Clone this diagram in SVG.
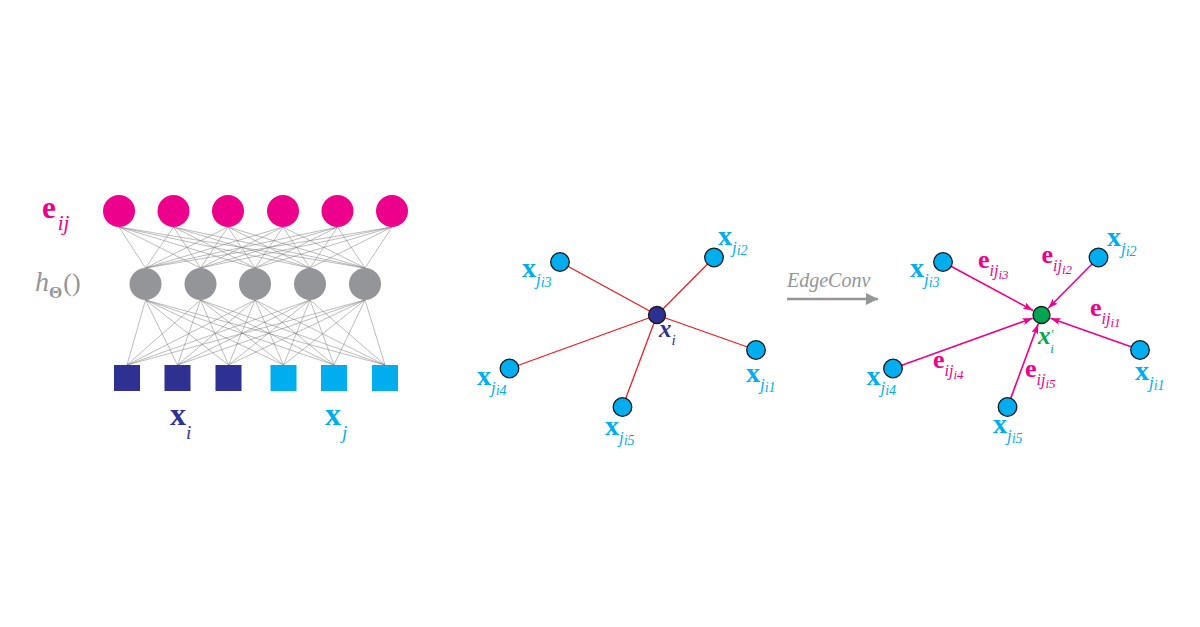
<svg xmlns="http://www.w3.org/2000/svg" width="1200" height="627" viewBox="0 0 1200 627">
<style>
text{font-family:"Liberation Serif","Times New Roman",serif}
.b{font-weight:bold}
.i{font-style:italic}
.pink{fill:#EC008C}
.navy{fill:#2E3192}
.cyan{fill:#00AEEF}
.grayt{fill:#939598}
.green{fill:#00A651}
.nn{stroke:#5a5a5a;stroke-width:0.5;fill:none}
.red{stroke:#ED1C24;stroke-width:1.3}
.pk{stroke:#EC008C;stroke-width:1.6;marker-end:url(#ah)}
.nb{fill:#00AEEF;stroke:#1a1a1a;stroke-width:1.3}
.s1{font-style:italic;font-weight:normal;font-size:17px}
.s2{font-style:italic;font-weight:normal;font-size:14px}
.e1{font-style:italic;font-weight:normal;font-size:16px}
.e2{font-style:italic;font-weight:normal;font-size:13px}
</style>
<defs>
<marker id="ah" markerUnits="userSpaceOnUse" markerWidth="12" markerHeight="9" refX="10" refY="3.5" orient="auto">
<path d="M0,0 L10,3.5 L0,7 L2,3.5 z" fill="#EC008C"/>
</marker>
<marker id="gah" markerUnits="userSpaceOnUse" markerWidth="14" markerHeight="14" refX="12" refY="6" orient="auto">
<path d="M0,0 L12,6 L0,12 z" fill="#939598"/>
</marker>
</defs>
<rect width="1200" height="627" fill="#ffffff"/>

<g id="connectors">
<g id="mlp-lines" class="nn" opacity="0.8">
<path d="M119 227L145.5 268M119 227L200.5 268M119 227L255 268M119 227L310 268M119 227L365 268"/>
<path d="M173.5 227L145.5 268M173.5 227L200.5 268M173.5 227L255 268M173.5 227L310 268M173.5 227L365 268"/>
<path d="M228 227L145.5 268M228 227L200.5 268M228 227L255 268M228 227L310 268M228 227L365 268"/>
<path d="M283 227L145.5 268M283 227L200.5 268M283 227L255 268M283 227L310 268M283 227L365 268"/>
<path d="M337.5 227L145.5 268M337.5 227L200.5 268M337.5 227L255 268M337.5 227L310 268M337.5 227L365 268"/>
<path d="M392 227L145.5 268M392 227L200.5 268M392 227L255 268M392 227L310 268M392 227L365 268"/>
<path d="M145.5 300L127 365M145.5 300L177.5 365M145.5 300L228.5 365M145.5 300L283.5 365M145.5 300L334 365M145.5 300L385 365"/>
<path d="M200.5 300L127 365M200.5 300L177.5 365M200.5 300L228.5 365M200.5 300L283.5 365M200.5 300L334 365M200.5 300L385 365"/>
<path d="M255 300L127 365M255 300L177.5 365M255 300L228.5 365M255 300L283.5 365M255 300L334 365M255 300L385 365"/>
<path d="M310 300L127 365M310 300L177.5 365M310 300L228.5 365M310 300L283.5 365M310 300L334 365M310 300L385 365"/>
<path d="M365 300L127 365M365 300L177.5 365M365 300L228.5 365M365 300L283.5 365M365 300L334 365M365 300L385 365"/>
</g>
<g id="knn-edges" class="red">
<line x1="657" y1="315" x2="756" y2="350"/>
<line x1="657" y1="315" x2="714" y2="257.5"/>
<line x1="657" y1="315" x2="560" y2="262"/>
<line x1="657" y1="315" x2="509.5" y2="368.5"/>
<line x1="657" y1="315" x2="622.5" y2="407"/>
</g>
<line id="edgeconv-arrow" x1="787" y1="299" x2="878" y2="299" stroke="#939598" stroke-width="2.5" marker-end="url(#gah)"/>
<g id="agg-edges">
<line class="pk" x1="951.4" y1="266.5" x2="1033.1" y2="310.5"/>
<line class="pk" x1="1091.8" y1="264.2" x2="1048.2" y2="308.3"/>
<line class="pk" x1="1131" y1="346.8" x2="1050.5" y2="318.2"/>
<line class="pk" x1="901.9" y1="365.3" x2="1032.6" y2="318.2"/>
<line class="pk" x1="1010.8" y1="398.1" x2="1038.2" y2="323.9"/>
</g>
</g>

<g id="mlp-output">
<circle cx="119" cy="211" r="16" class="pink"/>
<circle cx="173.5" cy="211" r="16" class="pink"/>
<circle cx="228" cy="211" r="16" class="pink"/>
<circle cx="283" cy="211" r="16" class="pink"/>
<circle cx="337.5" cy="211" r="16" class="pink"/>
<circle cx="392" cy="211" r="16" class="pink"/>
</g>
<g id="mlp-hidden">
<circle cx="145.5" cy="284" r="16" class="grayt"/>
<circle cx="200.5" cy="284" r="16" class="grayt"/>
<circle cx="255" cy="284" r="16" class="grayt"/>
<circle cx="310" cy="284" r="16" class="grayt"/>
<circle cx="365" cy="284" r="16" class="grayt"/>
</g>
<g id="mlp-input">
<rect x="114" y="365" width="26" height="26" class="navy"/>
<rect x="164.5" y="365" width="26" height="26" class="navy"/>
<rect x="215.5" y="365" width="26" height="26" class="navy"/>
<rect x="270.5" y="365" width="26" height="26" class="cyan"/>
<rect x="321" y="365" width="26" height="26" class="cyan"/>
<rect x="372" y="365" width="26" height="26" class="cyan"/>
</g>
<g id="mlp-labels">
<text x="42" y="218" class="b pink" font-size="31">e<tspan class="i" font-size="21" font-weight="normal" dx="2" dy="12">ij</tspan></text>
<text x="35" y="291" class="i grayt" font-size="28">h<tspan font-style="normal" font-weight="bold" font-size="17" dy="7">Θ</tspan><tspan font-style="normal" font-size="26" dx="1" dy="-7">()</tspan></text>
<text x="170" y="425" class="b navy" font-size="32">x<tspan class="i" font-weight="normal" font-size="19" dy="14">i</tspan></text>
<text x="325" y="425" class="b cyan" font-size="32">x<tspan class="i" font-weight="normal" font-size="19" dx="1" dy="14">j</tspan></text>
</g>

<g id="knn-graph">
<g id="node-xi">
<circle cx="657" cy="315" r="8.5" fill="#2E3192" stroke="#1a1a1a" stroke-width="1.3"/>
<text x="659" y="337" class="b i navy" font-size="25">x<tspan font-weight="normal" font-size="15" dy="8">i</tspan></text>
</g>
<g id="node-j1">
<circle cx="756" cy="350" r="9.3" class="nb"/>
<text x="746" y="382" class="b cyan" font-size="28">x<tspan class="s1" dy="8">j</tspan><tspan class="s2" dy="2">i1</tspan></text>
</g>
<g id="node-j2">
<circle cx="714" cy="257.5" r="9.3" class="nb"/>
<text x="718" y="245" class="b cyan" font-size="28">x<tspan class="s1" dy="8">j</tspan><tspan class="s2" dy="2">i2</tspan></text>
</g>
<g id="node-j3">
<circle cx="560" cy="262" r="9.3" class="nb"/>
<text x="522" y="277" class="b cyan" font-size="28">x<tspan class="s1" dy="8">j</tspan><tspan class="s2" dy="2">i3</tspan></text>
</g>
<g id="node-j4">
<circle cx="509.5" cy="368.5" r="9.3" class="nb"/>
<text x="477" y="385" class="b cyan" font-size="28">x<tspan class="s1" dy="8">j</tspan><tspan class="s2" dy="2">i4</tspan></text>
</g>
<g id="node-j5">
<circle cx="622.5" cy="407" r="9.3" class="nb"/>
<text x="605" y="435" class="b cyan" font-size="28">x<tspan class="s1" dy="8">j</tspan><tspan class="s2" dy="2">i5</tspan></text>
</g>
</g>

<text id="edgeconv-label" x="787" y="287" class="i grayt" font-size="20">EdgeConv</text>

<g id="agg-graph">
<g id="node-xi-out">
<circle cx="1041.5" cy="315" r="8.5" fill="#00A651" stroke="#1a1a1a" stroke-width="1.3"/>
<text x="1038" y="344" class="b i green" font-size="25">x<tspan font-weight="normal" font-size="13" dy="-6">′</tspan><tspan font-weight="normal" font-size="13" dx="-3" dy="15">i</tspan></text>
</g>
<g id="node-r-j1">
<circle cx="1140" cy="350" r="9.3" class="nb"/>
<text x="1135" y="380" class="b cyan" font-size="28">x<tspan class="s1" dy="8">j</tspan><tspan class="s2" dy="2">i1</tspan></text>
</g>
<g id="node-r-j2">
<circle cx="1098.5" cy="257.5" r="9.3" class="nb"/>
<text x="1107" y="246" class="b cyan" font-size="28">x<tspan class="s1" dy="8">j</tspan><tspan class="s2" dy="2">i2</tspan></text>
</g>
<g id="node-r-j3">
<circle cx="943" cy="262" r="9.3" class="nb"/>
<text x="910" y="277" class="b cyan" font-size="28">x<tspan class="s1" dy="8">j</tspan><tspan class="s2" dy="2">i3</tspan></text>
</g>
<g id="node-r-j4">
<circle cx="893" cy="368.5" r="9.3" class="nb"/>
<text x="866.5" y="385" class="b cyan" font-size="28">x<tspan class="s1" dy="8">j</tspan><tspan class="s2" dy="2">i4</tspan></text>
</g>
<g id="node-r-j5">
<circle cx="1007.5" cy="407" r="9.3" class="nb"/>
<text x="993" y="433" class="b cyan" font-size="28">x<tspan class="s1" dy="8">j</tspan><tspan class="s2" dy="2">i5</tspan></text>
</g>
<g id="edge-labels" class="pink">
<text x="978" y="268" class="b" font-size="26">e<tspan class="e1" dy="8">ij</tspan><tspan class="e2" dy="3">i3</tspan></text>
<text x="1041.5" y="263" class="b" font-size="26">e<tspan class="e1" dy="8">ij</tspan><tspan class="e2" dy="3">i2</tspan></text>
<text x="1090" y="316" class="b" font-size="26">e<tspan class="e1" dy="8">ij</tspan><tspan class="e2" dy="3">i1</tspan></text>
<text x="933" y="368" class="b" font-size="26">e<tspan class="e1" dy="8">ij</tspan><tspan class="e2" dy="3">i4</tspan></text>
<text x="1025" y="377" class="b" font-size="26">e<tspan class="e1" dy="8">ij</tspan><tspan class="e2" dy="3">i5</tspan></text>
</g>
</g>
</svg>
